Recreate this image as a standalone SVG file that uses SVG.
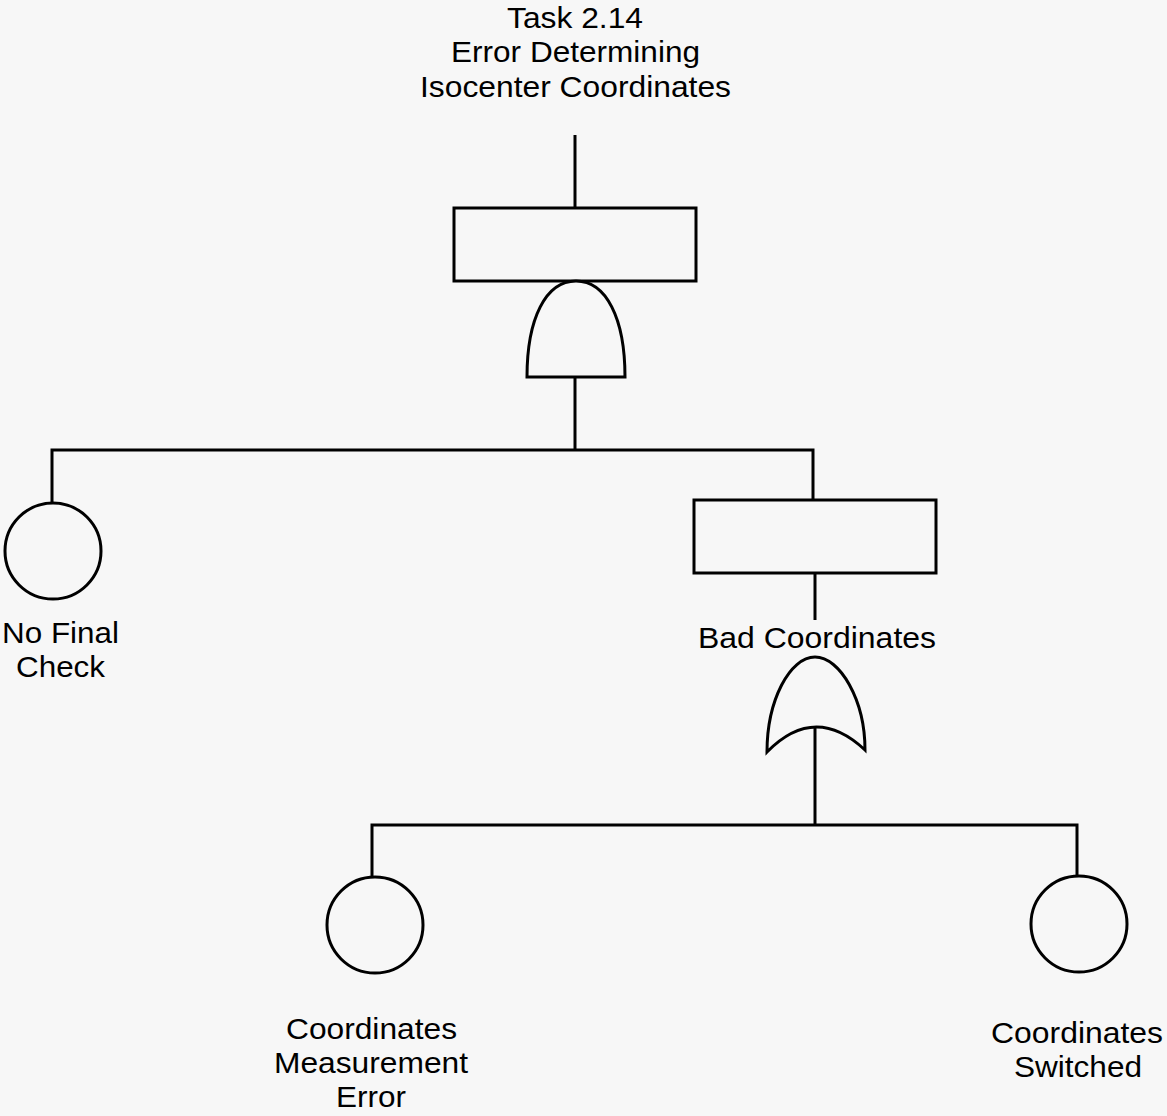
<svg xmlns="http://www.w3.org/2000/svg" width="1167" height="1116" viewBox="0 0 1167 1116">
  <style>
    .ln { fill: none; stroke: #000; stroke-width: 3; }
    .shape { fill: #f7f7f7; stroke: #000; stroke-width: 3; }
    .lbl { font-family: "Liberation Sans", Arial, sans-serif; font-size: 29px; fill: #000; text-anchor: middle; }
  </style>
  <rect width="1167" height="1116" fill="#f7f7f7"/>

  <!-- connectors -->
  <g id="connectors">
    <line class="ln" x1="575" y1="135" x2="575" y2="208"/>
    <line class="ln" x1="575" y1="377" x2="575" y2="450"/>
    <polyline class="ln" points="52,502 52,450 813,450 813,500"/>
    <line class="ln" x1="815" y1="573" x2="815" y2="620"/>
    <line class="ln" x1="815" y1="727" x2="815" y2="825"/>
    <polyline class="ln" points="372,876 372,825 1077,825 1077,876"/>
  </g>

  <!-- top event -->
  <g id="top-event">
    <text class="lbl" x="575" y="28" textLength="136" lengthAdjust="spacingAndGlyphs">Task 2.14</text>
    <text class="lbl" x="575.5" y="62" textLength="249" lengthAdjust="spacingAndGlyphs">Error Determining</text>
    <text class="lbl" x="575.5" y="97" textLength="311" lengthAdjust="spacingAndGlyphs">Isocenter Coordinates</text>
    <rect class="shape" x="454" y="208" width="242" height="73"/>
  </g>

  <!-- AND gate -->
  <g id="and-gate">
    <path class="shape" d="M527,377 C527,318 546,281 576,281 C606,281 625,318 625,377 Z"/>
  </g>

  <!-- basic event: no final check -->
  <g id="no-final-check">
    <circle class="shape" cx="53" cy="551" r="48"/>
    <text class="lbl" x="60.5" y="643" textLength="117" lengthAdjust="spacingAndGlyphs">No Final</text>
    <text class="lbl" x="60.5" y="677" textLength="89" lengthAdjust="spacingAndGlyphs">Check</text>
  </g>

  <!-- intermediate event -->
  <g id="bad-coordinates">
    <rect class="shape" x="694" y="500" width="242" height="73"/>
    <text class="lbl" x="817" y="648" textLength="238" lengthAdjust="spacingAndGlyphs">Bad Coordinates</text>
  </g>

  <!-- OR gate -->
  <g id="or-gate">
    <path class="shape" d="M767,752 C767,700 790,657 815,657 C840,657 865,700 865,750 Q815,703 767,752 Z"/>
  </g>

  <!-- basic event: measurement error -->
  <g id="measurement-error">
    <circle class="shape" cx="375" cy="925" r="48"/>
    <text class="lbl" x="371.5" y="1039" textLength="171" lengthAdjust="spacingAndGlyphs">Coordinates</text>
    <text class="lbl" x="371" y="1073" textLength="194" lengthAdjust="spacingAndGlyphs">Measurement</text>
    <text class="lbl" x="371" y="1107" textLength="70" lengthAdjust="spacingAndGlyphs">Error</text>
  </g>

  <!-- basic event: coordinates switched -->
  <g id="coordinates-switched">
    <circle class="shape" cx="1079" cy="924" r="48"/>
    <text class="lbl" x="1077" y="1043" textLength="172" lengthAdjust="spacingAndGlyphs">Coordinates</text>
    <text class="lbl" x="1078" y="1077" textLength="128" lengthAdjust="spacingAndGlyphs">Switched</text>
  </g>
</svg>
